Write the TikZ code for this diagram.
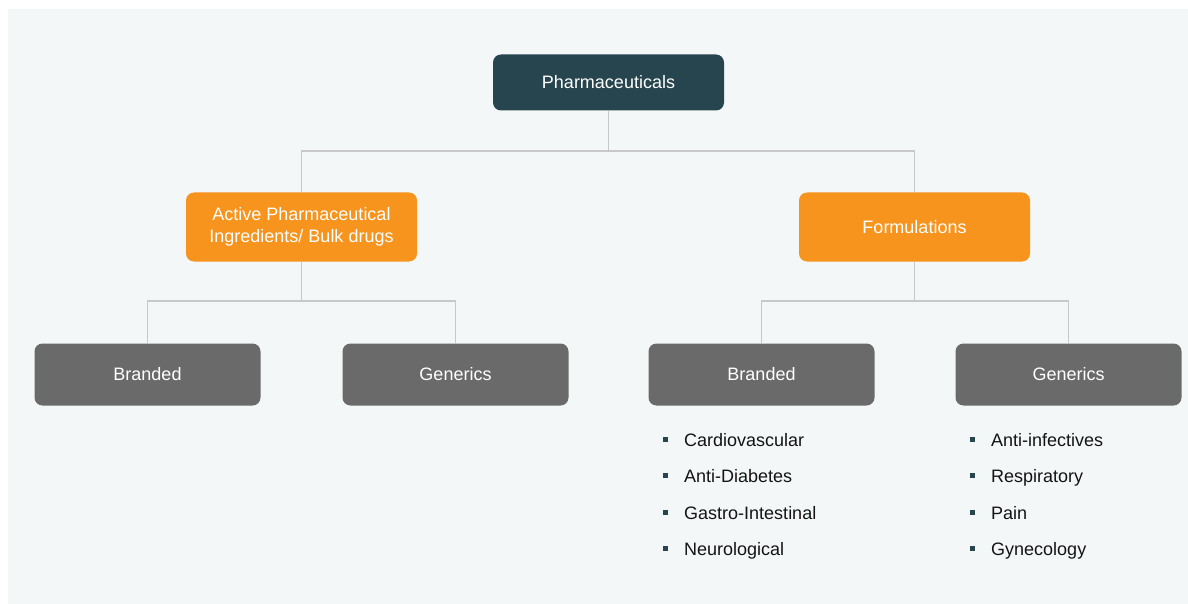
\documentclass[tikz,border=0pt]{standalone}
\usepackage{fontspec}
\setmainfont{Liberation Sans}
\definecolor{bgc}{HTML}{F4F7F8}
\definecolor{teal}{HTML}{27454E}
\definecolor{orng}{HTML}{F7941D}
\definecolor{gry}{HTML}{6A6A6A}
\definecolor{lnc}{HTML}{C8C8C8}
\definecolor{txt}{HTML}{141414}
\begin{document}
\begin{tikzpicture}[x=1pt,y=-1pt,
  font=\fontsize{18}{22}\selectfont,
  box/.style={rounded corners=8pt, inner sep=0pt, text=white, align=center},
  topbox/.style={box, fill=teal, minimum width=231pt, minimum height=56pt},
  midbox/.style={box, fill=orng, minimum width=231pt, minimum height=69pt},
  lowbox/.style={box, fill=gry, minimum width=226pt, minimum height=62pt},
  conn/.style={draw=lnc, line width=1.2pt},
  item/.style={anchor=base west, inner sep=0pt, text=txt},
]
\useasboundingbox (0,0) rectangle (1188,604);
\fill[white] (0,0) rectangle (1188,604);
\fill[bgc] (8,9) rectangle (1188,604);

\node[topbox] (ph) at (608.5,82.5) {Pharmaceuticals};
\node[midbox] (api) at (301.5,227) {Active Pharmaceutical\\Ingredients/ Bulk drugs};
\node[midbox] (form) at (914.5,227) {Formulations};
\node[lowbox] (b1) at (147.5,374.5) {Branded};
\node[lowbox] (g1) at (455.5,374.5) {Generics};
\node[lowbox] (b2) at (761.5,374.5) {Branded};
\node[lowbox] (g2) at (1068.5,374.5) {Generics};

\coordinate (j0) at (608.5,151);
\coordinate (j1) at (301.5,301);
\coordinate (j2) at (914.5,301);

\draw[conn] (ph.south) -- (j0);
\draw[conn] (api.north) |- (j0) -| (form.north);
\draw[conn] (api.south) -- (j1);
\draw[conn] (b1.north) |- (j1) -| (g1.north);
\draw[conn] (form.south) -- (j2);
\draw[conn] (b2.north) |- (j2) -| (g2.north);

\newcommand{\blt}{\textcolor{teal}{\raisebox{4.5pt}{\rule{5pt}{5pt}}}\hspace{16pt}}
\node[item] (c1) at (663,446) {\blt Cardiovascular};
\node[item] (c2) at (663,482.5) {\blt Anti-Diabetes};
\node[item] (c3) at (663,519) {\blt Gastro-Intestinal};
\node[item] (c4) at (663,555.5) {\blt Neurological};
\node[item] (d1) at (970,446) {\blt Anti-infectives};
\node[item] (d2) at (970,482.5) {\blt Respiratory};
\node[item] (d3) at (970,519) {\blt Pain};
\node[item] (d4) at (970,555.5) {\blt Gynecology};
\end{tikzpicture}
\end{document}
